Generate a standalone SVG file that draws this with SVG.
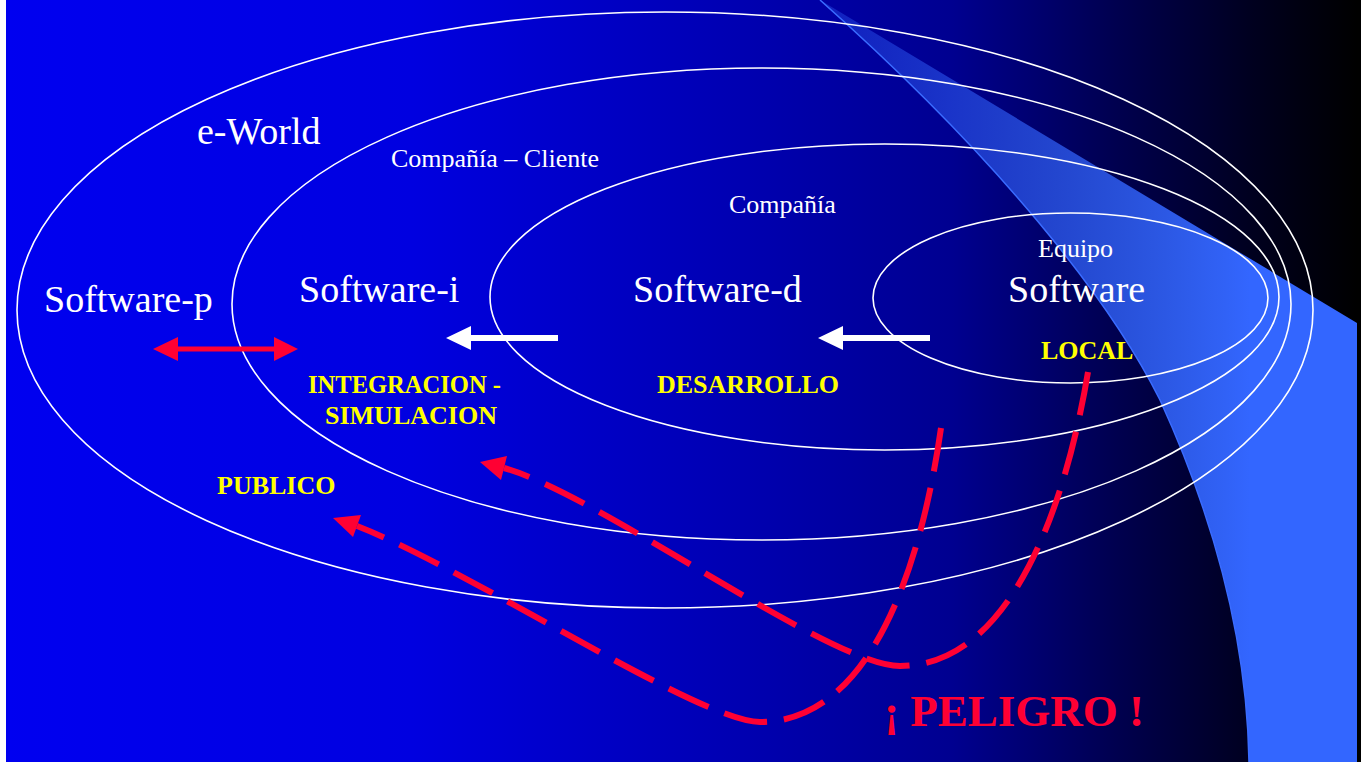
<svg xmlns="http://www.w3.org/2000/svg" width="1361" height="762" viewBox="0 0 1361 762">
<defs>
<linearGradient id="bg" gradientUnits="userSpaceOnUse" x1="6" y1="0" x2="1357" y2="0">
<stop offset="0" stop-color="#0000f0"/>
<stop offset="0.3" stop-color="#0000e0"/>
<stop offset="0.55" stop-color="#0000b0"/>
<stop offset="0.7" stop-color="#000090"/>
<stop offset="0.82" stop-color="#000050"/>
<stop offset="0.92" stop-color="#000020"/>
<stop offset="1" stop-color="#000000"/>
</linearGradient>
<linearGradient id="sw" gradientUnits="userSpaceOnUse" x1="820" y1="0" x2="1250" y2="0">
<stop offset="0" stop-color="#3366ff" stop-opacity="0.3"/>
<stop offset="1" stop-color="#3366ff" stop-opacity="1"/>
</linearGradient>
<style>
.ell{fill:none;stroke:#ffffff;stroke-width:1.6}
.w{font-family:"Liberation Serif","Times New Roman",serif;fill:#ffffff}
.big{font-size:38px}
.sm{font-size:26px}
.y{font-family:"Liberation Serif","Times New Roman",serif;font-weight:bold;font-size:26px;fill:#ffff00}
.dash{fill:none;stroke:#ff0033;stroke-width:6;stroke-dasharray:44 17}
.red{fill:#ff0033}
.wh{fill:#ffffff}
</style>
</defs>
<rect x="0" y="0" width="1361" height="762" fill="#000000"/>
<rect x="6" y="0" width="1351" height="762" fill="url(#bg)"/>
<rect x="0" y="0" width="6" height="762" fill="#ffffff"/>
<g id="swoosh">
<path d="M820,0 L1357,323 L1357,762 L1249,762 C1247,640 1215,520 1160,400 C1110,300 1000,160 820,0 Z" fill="url(#sw)"/>
<path d="M1249,762 C1247,640 1215,520 1160,400 C1110,300 1000,160 820,0" fill="none" stroke="#3a6cff" stroke-width="1.5"/>
</g>
<g id="eworld">
<ellipse class="ell" cx="665" cy="310" rx="648" ry="298"/>
<text class="w big" x="197" y="144">e-World</text>
<text class="w big" x="44" y="312">Software-p</text>
<text class="y" x="217" y="494">PUBLICO</text>
</g>
<g id="cliente">
<ellipse class="ell" cx="761.5" cy="304" rx="529.5" ry="236"/>
<text class="w sm" x="391" y="167">Compañía – Cliente</text>
<text class="w big" x="299" y="302">Software-i</text>
<text class="y" x="308" y="393" textLength="193" lengthAdjust="spacingAndGlyphs">INTEGRACION -</text>
<text class="y" x="325" y="424">SIMULACION</text>
</g>
<g id="compania">
<ellipse class="ell" cx="884.5" cy="297" rx="394.5" ry="153"/>
<text class="w sm" x="729" y="213">Compañía</text>
<text class="w big" x="633" y="302">Software-d</text>
<text class="y" x="657" y="393">DESARROLLO</text>
</g>
<g id="equipo">
<ellipse class="ell" cx="1070.5" cy="298" rx="197.5" ry="85"/>
<text class="w sm" x="1038" y="257">Equipo</text>
<text class="w big" x="1008" y="302">Software</text>
<text class="y" x="1041" y="359">LOCAL</text>
</g>
<g id="peligro">
<text x="884" y="726" font-family="Liberation Serif, Times New Roman, serif" font-weight="bold" font-size="45" fill="#ff0033">¡ PELIGRO !</text>
</g>
<g id="connectors">
<polygon class="red" points="153,349 178,337 178,346.5 274,346.5 274,337 298,349 274,361 274,351.5 178,351.5 178,361"/>
<polygon class="wh" points="446,338 471,326 471,335 558,335 558,341 471,341 471,350"/>
<polygon class="wh" points="818,338 843,326 843,335 930,335 930,341 843,341 843,350"/>
<path class="dash" d="M1088,372 C1070,480 1020,666 900,666 C830,666 600,495 504,468"/>
<polygon class="red" points="480,462 507,456 501,480"/>
<path class="dash" d="M941,428 C925,540 880,722 760,722 C700,722 470,570 357,526"/>
<polygon class="red" points="333,518 361,515 353,537"/>
</g>
</svg>
